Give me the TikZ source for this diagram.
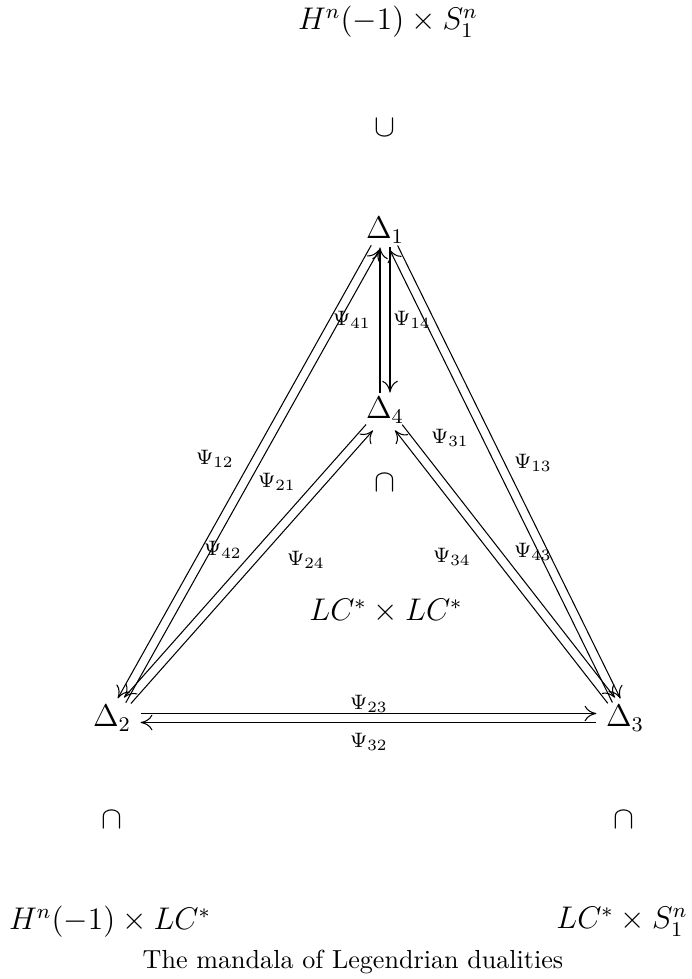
\documentclass[tikz,border=0pt]{standalone}
\usepackage{amsmath}
\usetikzlibrary{arrows.meta}
\tikzset{
  obj/.style={font=\large, inner xsep=3.5pt, inner ysep=1.5pt},
  map/.style={-{To[length=4.5pt,width=6pt]}},
  lab/.style={font=\footnotesize, inner sep=0pt},
  off/.style={transform canvas={shift={#1}}}
}
\begin{document}
\begin{tikzpicture}[x=0.383pt, y=-0.383pt]
  \useasboundingbox (0,0) rectangle (691,979);
  % the four Delta's and the spaces around them
  \node[obj] (top)  at (388,22)  {$H^n(-1)\times S^n_1$};
  \node[obj] (cupt) at (385,128) {$\cup$};
  \node[obj] (d1)   at (385,230) {$\Delta_1$};
  \node[obj] (d4)   at (385,410) {$\Delta_4$};
  \node[obj] (capm) at (385,483) {$\cap$};
  \node[obj] (mid)  at (386,611) {$LC^*\times LC^*$};
  \node[obj] (d2)   at (112,718) {$\Delta_2$};
  \node[obj] (d3)   at (625,718) {$\Delta_3$};
  \node[obj] (capl) at (112,820) {$\cap$};
  \node[obj] (capr) at (624,820) {$\cap$};
  \node[obj] (botl) at (110,922) {$H^n(-1)\times LC^*$};
  \node[obj] (botr) at (622,922) {$LC^*\times S^n_1$};
  \node (cap) at (353,962) {The mandala of Legendrian dualities};

  % pairs of dualities, shifted apart
  \foreach \a/\b/\dx/\dy in {
      d4/d1/-5/0, d1/d4/5/0,
      d1/d2/-4/-2.2, d2/d1/4/2.2,
      d4/d2/-3.4/-3, d2/d4/3.4/3,
      d1/d3/4/-2, d3/d1/-4/2,
      d4/d3/3.6/-2.8, d3/d4/-3.6/2.8,
      d2/d3/0/-4.5, d3/d2/0/4.5}
    \draw[map, off={(\dx,\dy)}] (\a) -- (\b);

  % labels
  \foreach \t/\x/\y in {
      41/352/320, 14/412/320,
      12/215/459, 21/277/482, 42/223/550, 24/306/560,
      31/450/438, 13/533/463, 34/452/557, 43/533/552,
      23/369/704, 32/369/742}
    \node[lab] (p\t) at (\x,\y) {$\Psi_{\t}$};
\end{tikzpicture}
\end{document}
